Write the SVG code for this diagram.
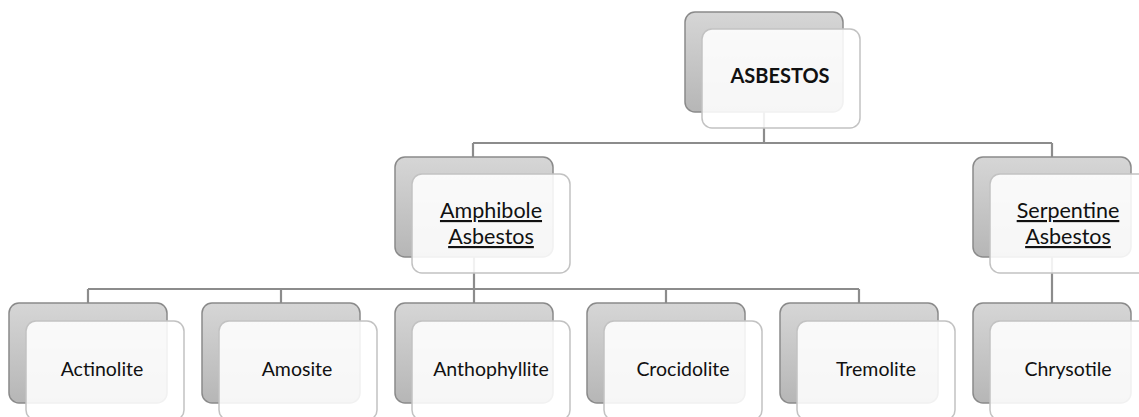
<svg xmlns="http://www.w3.org/2000/svg" width="1139" height="417" viewBox="0 0 1139 417">
<defs>
<linearGradient id="g" x1="0" y1="0" x2="0" y2="1">
<stop offset="0" stop-color="#d6d6d6"/>
<stop offset="1" stop-color="#b6b6b6"/>
</linearGradient>
<style>
.back{fill:url(#g);stroke:#8a8a8a;stroke-width:1.5}
.front{fill:#ffffff;fill-opacity:0.88;stroke:#c2c2c2;stroke-width:1.5}
.lbl{font-family:Lato,"Open Sans","Liberation Sans",sans-serif;font-size:19.5px;fill:#111;text-anchor:middle}
.u{text-decoration:underline;font-size:21.5px}
.b{font-weight:bold;font-size:20px}
.conn{fill:none;stroke:#8c8c8c;stroke-width:2.2}
</style>
</defs>
<rect width="1139" height="417" fill="#ffffff"/>
<g id="connectors">
<path class="conn" d="M764,112 V143 M473,143 H1052 M473,143 V157 M1052,143 V157"/>
<path class="conn" d="M474,257 V289 M88,289 H859 M88,289 V303 M281,289 V303 M474,289 V303 M666,289 V303 M859,289 V303"/>
<path class="conn" d="M1052,257 V303"/>
</g>
<g id="asbestos">
<rect class="back" x="685" y="12" width="158" height="100" rx="10"/>
<rect class="front" x="702" y="29" width="158" height="99" rx="10"/>
<text class="lbl b" x="780" y="83">ASBESTOS</text>
</g>
<g id="amphibole">
<rect class="back" x="395" y="157" width="158" height="100" rx="10"/>
<rect class="front" x="412" y="174" width="158" height="99" rx="10"/>
<text class="lbl u" x="491" y="218">Amphibole</text>
<text class="lbl u" x="491" y="244">Asbestos</text>
</g>
<g id="serpentine">
<rect class="back" x="973" y="157" width="158" height="100" rx="10"/>
<rect class="front" x="990" y="174" width="158" height="99" rx="10"/>
<text class="lbl u" x="1068" y="218">Serpentine</text>
<text class="lbl u" x="1068" y="244">Asbestos</text>
</g>
<g id="actinolite">
<rect class="back" x="9" y="303" width="158" height="100" rx="10"/>
<rect class="front" x="26" y="321" width="158" height="99" rx="10"/>
<text class="lbl" x="102" y="376">Actinolite</text>
</g>
<g id="amosite">
<rect class="back" x="202" y="303" width="158" height="100" rx="10"/>
<rect class="front" x="219" y="321" width="158" height="99" rx="10"/>
<text class="lbl" x="297" y="376">Amosite</text>
</g>
<g id="anthophyllite">
<rect class="back" x="395" y="303" width="158" height="100" rx="10"/>
<rect class="front" x="412" y="321" width="158" height="99" rx="10"/>
<text class="lbl" x="491" y="376">Anthophyllite</text>
</g>
<g id="crocidolite">
<rect class="back" x="587" y="303" width="158" height="100" rx="10"/>
<rect class="front" x="604" y="321" width="158" height="99" rx="10"/>
<text class="lbl" x="683" y="376">Crocidolite</text>
</g>
<g id="tremolite">
<rect class="back" x="780" y="303" width="158" height="100" rx="10"/>
<rect class="front" x="797" y="321" width="158" height="99" rx="10"/>
<text class="lbl" x="876" y="376">Tremolite</text>
</g>
<g id="chrysotile">
<rect class="back" x="973" y="303" width="158" height="100" rx="10"/>
<rect class="front" x="990" y="321" width="158" height="99" rx="10"/>
<text class="lbl" x="1068" y="376">Chrysotile</text>
</g>
</svg>
